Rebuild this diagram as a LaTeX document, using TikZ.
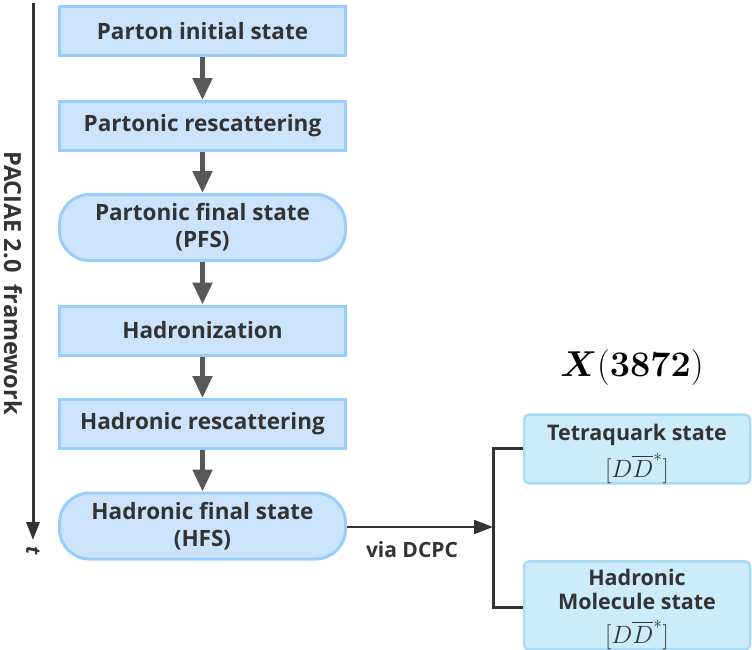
\documentclass[tikz,border=0pt]{standalone}
\RequirePackage{fix-cm}
\usepackage[no-math]{fontspec}
\setmainfont{Open Sans}
\usepackage{amsmath}
\usepackage{bm}
\usetikzlibrary{arrows.meta}
\definecolor{boxfill}{HTML}{CCE4FB}
\definecolor{boxline}{HTML}{9ACDFB}
\definecolor{rfill}{HTML}{CCECFB}
\definecolor{rline}{HTML}{A6DAF6}
\definecolor{txt}{HTML}{333333}
\definecolor{arr}{HTML}{585858}
\newcommand{\ddstar}{{\fontsize{25}{26}\selectfont\mdseries$[D\overline{D}^{*}]$}}
\tikzset{
  stepbox/.style={draw=boxline, fill=boxfill, line width=3pt, minimum width=286pt, minimum height=49pt, inner sep=0pt, align=center, text=txt, font=\fontsize{22.5}{27}\selectfont\bfseries},
  roundbox/.style={stepbox, rounded corners=30pt, minimum height=66pt},
  rbox/.style={draw=rline, fill=rfill, line width=2.5pt, rounded corners=5pt, minimum width=226pt, inner sep=0pt, align=center, text=txt, font=\fontsize{21.5}{25}\selectfont\bfseries},
  flow/.style={draw=arr, line width=5pt, -{Triangle[width=19pt,length=22pt]}},
}
\begin{document}
\begin{tikzpicture}[x=1pt,y=-1pt]
\useasboundingbox (0,0) rectangle (752,649);
\node[stepbox] (n1) at (202.5,31) {Parton initial state};
\node[stepbox] (n2) at (202.5,126) {Partonic rescattering};
\node[roundbox] (n3) at (202.5,227.5) {Partonic final state\\(PFS)};
\node[stepbox] (n4) at (202.5,330.5) {Hadronization};
\node[stepbox] (n5) at (202.5,424) {Hadronic rescattering};
\node[roundbox] (n6) at (202.5,526) {Hadronic final state\\(HFS)};
\draw[flow] (n1) -- (n2);
\draw[flow] (n2) -- (n3);
\draw[flow] (n3) -- (n4);
\draw[flow] (n4) -- (n5);
\draw[flow] (n5) -- (n6);
% time axis
\coordinate (tA) at (33,3);
\coordinate (tB) at (33,540);
\draw[draw=txt, line width=3pt, -{Triangle[width=13pt,length=18pt]}] (tA) -- (tB);
\node[rotate=-90, text=txt, font=\fontsize{20}{20}\selectfont\bfseries\itshape] (tl) at (33,551) {t};
\node[rotate=-90, text=txt, font=\fontsize{23.5}{24}\selectfont\bfseries] (fw) at (13,283) {PACIAE 2.0~~framework};
% right side
\node[text=black, font=\fontsize{36}{38}\selectfont] (X) at (632,367) {$\bm{X}(\mathbf{3872})$};
\node[rbox, minimum height=63pt] (tq) at (637,449) {\rule{0pt}{26pt}Tetraquark state\\[7pt]\ddstar};
\node[rbox, minimum height=80pt] (hm) at (637,605.5) {\rule{0pt}{24pt}Hadronic\\[-1pt]Molecule state\\[9pt]\ddstar};
\coordinate (br) at (493,527);
\coordinate (bt) at (493,448);
\coordinate (bb) at (493,607);
\draw[draw=txt, line width=3pt] (tq.west |- bt) -- (bt) -- (bb) -- (hm.west |- bb);
\draw[draw=txt, line width=2pt, -{Triangle[width=14pt,length=19pt]}] (n6.east |- br) -- (br);
\node[text=txt, font=\fontsize{21}{22}\selectfont\bfseries] (via) at (412,550) {via DCPC};
\end{tikzpicture}
\end{document}
